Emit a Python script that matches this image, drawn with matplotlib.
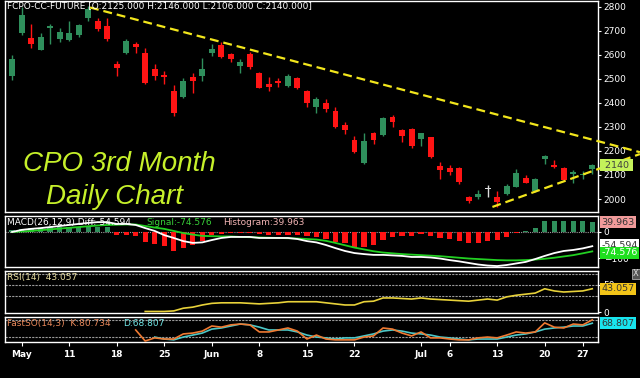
import matplotlib
matplotlib.use("Agg")
import matplotlib.pyplot as plt
import numpy as np

nan = np.nan

# daily OHLC, one entry per trading day (30 Apr .. 28 Jul)
opens = [2510, 2689, 2668, 2622, 2712, 2664, 2660, 2681, 2755, 2739, 2718, 2560, 2606, 2647, 2606, 2540,
         2515, 2448, 2423, 2506, 2510, 2606, 2639, 2602, 2552, 2602, 2523, 2477, 2490, 2469, 2502, 2448,
         2382, 2398, 2365, 2307, 2245, 2149, 2274, 2266, 2340, 2286, 2290, 2249, 2257, 2137, 2129, 2129,
         2008, 2008, 2041, 2008, 2021, 2050, 2087, 2033, 2166, 2141, 2129, 2104, 2100, 2125]
highs = [2598, 2797, 2730, 2689, 2730, 2710, 2739, 2730, 2805, 2755, 2755, 2573, 2664, 2652, 2627, 2560,
         2531, 2473, 2502, 2523, 2585, 2647, 2652, 2606, 2581, 2610, 2527, 2506, 2502, 2519, 2506, 2452,
         2423, 2415, 2382, 2320, 2261, 2274, 2278, 2340, 2349, 2290, 2295, 2276, 2259, 2154, 2141, 2133,
         2012, 2037, 2058, 2033, 2062, 2125, 2100, 2087, 2183, 2162, 2133, 2120, 2116, 2146]
lows = [2494, 2681, 2627, 2618, 2647, 2652, 2656, 2676, 2739, 2701, 2656, 2510, 2602, 2606, 2479, 2494,
        2477, 2344, 2420, 2440, 2490, 2593, 2585, 2569, 2523, 2540, 2460, 2448, 2465, 2465, 2456, 2382,
        2357, 2361, 2295, 2270, 2191, 2145, 2228, 2264, 2299, 2237, 2212, 2220, 2170, 2083, 2100, 2062,
        1983, 2000, 2008, 1967, 2017, 2050, 2066, 2029, 2145, 2129, 2075, 2066, 2083, 2106]
closes = [2581, 2764, 2643, 2676, 2720, 2693, 2689, 2726, 2789, 2706, 2664, 2544, 2656, 2631, 2481, 2510,
          2506, 2357, 2490, 2490, 2540, 2623, 2589, 2581, 2569, 2548, 2461, 2465, 2481, 2510, 2461, 2398,
          2415, 2374, 2299, 2286, 2195, 2241, 2245, 2336, 2320, 2261, 2220, 2274, 2174, 2120, 2112, 2071,
          1992, 2021, 2041, 1988, 2054, 2108, 2066, 2083, 2178, 2133, 2079, 2112, 2106, 2140]

macd_diff = [0, 8, 12, 15, 19, 23, 27, 31, 35, 38, 38, 31, 31, 27, 15, 4, -12, -23, -35, -42, -40,
             -31, -23, -19, -19, -19, -23, -23, -23, -23, -27, -35, -40, -50, -62, -73, -81, -85, -88,
             -88, -90, -92, -96, -96, -98, -102, -108, -113, -119, -125, -129, -131, -127, -121, -115,
             -104, -92, -81, -73, -69, -63, -54.594]
macd_signal = [0, 2, 4, 7, 10, 13, 16, 19, 22, 25, 27, 28, 29, 29, 23, 17, 12, 4, -4, -10, -15,
               -16, -17, -17, -19, -20, -21, -22, -23, -24, -25, -27, -29, -34, -42, -51, -60, -67, -74,
               -79, -82, -85, -87, -89, -91, -93, -96, -99, -102, -104, -106, -108, -109, -109, -108,
               -106, -103, -99, -94, -89, -82, -74.576]
macd_hist = [8, 12, 15, 15, 18, 18, 18, 20, 22, 20, 18, -12, -12, -15, -38, -46, -53, -73, -63, -50, -35,
             -10, -6, -4, -3, -5, -8, -10, -10, -10, -12, -15, -18, -27, -38, -42, -62, -58, -50, -31,
             -19, -15, -15, -8, -15, -23, -27, -35, -42, -42, -35, -31, -19, -3, 3, 15, 42, 42, 42, 42,
             42, 39.963]

rsi = [nan] * 14 + [1, 1, 1, 2, 7, 9, 13, 16, 17, 17, 17, 16, 15, 16, 17, 19, 19, 19, 19, 17, 15, 13, 13,
                    19, 20, 26, 26, 25, 24, 26, 24, 23, 22, 21, 20, 22, 24, 22, 28, 31, 33, 35, 43, 39,
                    37, 38, 39, 43.057]
so_k = [nan] * 13 + [45, 6, 17, 13, 13, 31, 34, 41, 59, 55, 63, 66, 63, 38, 38, 45, 52, 41, 13, 27, 13,
                     10, 10, 10, 20, 24, 52, 48, 34, 24, 38, 17, 17, 13, 10, 10, 17, 20, 17, 27, 38, 34,
                     38, 70, 55, 52, 66, 63, 80.734]
so_d = [nan] * 15 + [20, 13, 10, 20, 27, 34, 48, 52, 59, 66, 63, 55, 45, 45, 45, 38, 27, 20, 17, 13, 17,
                     17, 24, 31, 41, 45, 41, 34, 31, 27, 20, 17, 13, 10, 13, 13, 13, 20, 27, 31, 38, 48,
                     52, 55, 59, 59, 68.807]

tick_idx = [1, 6, 11, 16, 21, 26, 31, 36, 43, 46, 51, 56, 60]
tick_lbl = ['May', '11', '18', '25', 'Jun', '8', '15', '22', 'Jul', '6', '13', '20', '27']

# trend lines drawn on the price panel: (day index, price) end points
trend_upper = [(8.2, 2797), (66, 2195)]
trend_lower = [(50.5, 1967), (66, 2187)]

GREEN = '#2f8f5c'
RED = '#ff1414'
W, H = 640, 378

fig = plt.figure(figsize=(W / 100, H / 100), dpi=100, facecolor='black')
x = np.arange(len(closes))


def panel(top, bottom):
    ax = fig.add_axes([5 / W, 1 - bottom / H, 593 / W, (bottom - top) / H])
    ax.set_facecolor('black')
    for s in ax.spines.values():
        s.set_color('white')
        s.set_linewidth(1)
    ax.set_xlim(-0.74, 61.6)
    ax.yaxis.tick_right()
    ax.tick_params(axis='y', colors='white', labelsize=6.5, length=2, pad=2)
    ax.set_xticks([])
    return ax


def tag(ax, y, s, bg, fg, trans=None):
    # value box stuck to the right of a panel
    ax.text(1.006, y, s, transform=trans or ax.get_yaxis_transform(), fontsize=6.8, color=fg,
            va='center', ha='left', clip_on=False, zorder=10,
            bbox=dict(boxstyle='square,pad=0.15', fc=bg, ec='none'))


# ---- price panel
ax = panel(0.5, 212)
ax.set_ylim(1946, 2826)
ax.set_yticks(range(2000, 2801, 100))
o, h, l, c = map(np.array, (opens, highs, lows, closes))
cols = [GREEN if cc > oo else (RED if cc < oo else '#dddddd') for oo, cc in zip(o, c)]
ax.vlines(x, l, h, colors=cols, linewidth=1, zorder=3)
body = np.maximum(np.abs(c - o), 3)
ax.bar(x, body, bottom=np.minimum(o, c), width=0.62, color=cols, zorder=4)
for (x0, y0), (x1, y1) in [trend_upper, trend_lower]:
    ax.plot([x0, x1], [y0, y1], color='#f2e61c', lw=1.6, dashes=(4, 2.2), clip_on=False, zorder=5)
tag(ax, closes[-1], ' ' + str(closes[-1]) + ' ', '#c4f25a', '#404040')
ax.text(0.003, 0.997, 'FCPO-CC-FUTURE [O:2125.000 H:2146.000 L:2106.000 C:2140.000]',
        transform=ax.transAxes, color='white', fontsize=6.5, va='top', ha='left', zorder=6)
fig.text(119 / W, 1 - 171 / H, 'CPO 3rd Month', color='#c6f02a', fontsize=20, style='italic',
         family='Liberation Sans', ha='center', va='baseline')
fig.text(115 / W, 1 - 204 / H, 'Daily Chart', color='#c6f02a', fontsize=20, style='italic',
         family='Liberation Sans', ha='center', va='baseline')

# ---- MACD panel
axm = panel(216, 267)
axm.set_ylim(-134.6, 61.5)
axm.set_yticks([0, -100])
hcol = [GREEN if v > 0 else RED for v in macd_hist]
axm.bar(x, macd_hist, width=0.55, color=hcol, zorder=2)
axm.axhline(0, color='#9a9a9a', lw=0.8, ls=(0, (1, 1)), zorder=1)
axm.plot(x, macd_signal, color='#22d022', lw=1.3, zorder=3)
axm.plot(x, macd_diff, color='white', lw=1.3, zorder=4)
axm.text(0.003, 0.96, 'MACD(26,12,9) Diff:-54.594', transform=axm.transAxes, color='white',
         fontsize=6.5, va='top', zorder=6)
axm.text(0.239, 0.96, 'Signal:-74.576', transform=axm.transAxes, color='#38d038',
         fontsize=6.5, va='top', zorder=6)
axm.text(0.367, 0.96, 'Histogram:39.963', transform=axm.transAxes, color='#f2b4b4',
         fontsize=6.5, va='top', zorder=6)
tag(axm, 0.88, '39.963', '#f09a9a', '#333333', trans=axm.transAxes)
tag(axm, macd_diff[-1] + 3, '-54.594', 'white', '#333333')
tag(axm, macd_signal[-1] - 5, '-74.576', '#1ee01e', 'white')

# ---- RSI panel
axr = panel(271, 313)
axr.set_ylim(-1.85, 75.9)
axr.set_yticks([0, 50])
for lv in (30, 50, 70):
    axr.axhline(lv, color='#9a9a9a', lw=0.8, ls=(0, (2, 1)), zorder=1)
axr.plot(x, rsi, color='#e8d23a', lw=1.2, zorder=3)
axr.text(0.003, 0.95, 'RSI(14)  43.057', transform=axr.transAxes, color='#e6dca0',
         fontsize=6.5, va='top', zorder=6)
tag(axr, rsi[-1], '43.057', '#f2c418', '#333333')
fig.text(636 / W, 1 - 274 / H, 'X', color='#dddddd', fontsize=6, ha='center', va='center',
         bbox=dict(boxstyle='square,pad=0.1', fc='#555555', ec='#aaaaaa', lw=0.6))

# ---- Fast stochastic panel
axs = panel(317, 342)
axs.set_ylim(2.5, 90.8)
axs.set_yticks([])
for lv in (20, 80):
    axs.axhline(lv, color='#9a9a9a', lw=0.8, ls=(0, (2, 1)), zorder=1)
axs.plot(x, so_d, color='#4cc8c8', lw=1.2, zorder=3)
axs.plot(x, so_k, color='#f07a32', lw=1.2, zorder=4)
axs.text(0.003, 0.93, 'FastSO(14,3)  K:80.734', transform=axs.transAxes, color='#e8885a',
         fontsize=6.5, va='top', zorder=6)
axs.text(0.2, 0.93, 'D:68.807', transform=axs.transAxes, color='#70e4e4',
         fontsize=6.5, va='top', zorder=6)
tag(axs, so_d[-1], '68.807', '#18e4ee', '#333333')
axs.set_xticks(tick_idx)
axs.set_xticklabels(tick_lbl, fontweight='bold')
axs.tick_params(axis='x', colors='white', labelsize=6.5, length=3, pad=3)

fig.savefig('out.png', dpi=100, facecolor='black')
